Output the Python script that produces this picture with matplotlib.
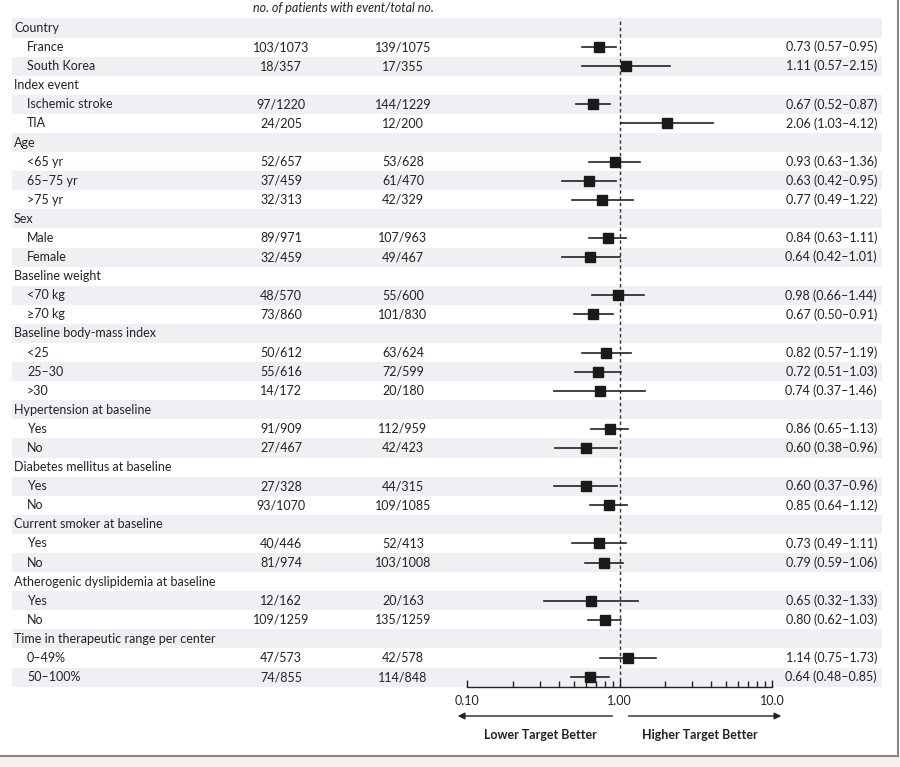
import matplotlib
matplotlib.use("Agg")
import matplotlib.pyplot as plt
from matplotlib.patches import Rectangle
from matplotlib.transforms import blended_transform_factory

# rows: label, is_header
labels = [
    "Country", "France", "South Korea",
    "Index event", "Ischemic stroke", "TIA",
    "Age", "<65 yr", "65\u201375 yr", ">75 yr",
    "Sex", "Male", "Female",
    "Baseline weight", "<70 kg", "\u226570 kg",
    "Baseline body-mass index", "<25", "25\u201330", ">30",
    "Hypertension at baseline", "Yes", "No",
    "Diabetes mellitus at baseline", "Yes", "No",
    "Current smoker at baseline", "Yes", "No",
    "Atherogenic dyslipidemia at baseline", "Yes", "No",
    "Time in therapeutic range per center", "0\u201349%", "50\u2013100%",
]
is_header = [
    1, 0, 0,
    1, 0, 0,
    1, 0, 0, 0,
    1, 0, 0,
    1, 0, 0,
    1, 0, 0, 0,
    1, 0, 0,
    1, 0, 0,
    1, 0, 0,
    1, 0, 0,
    1, 0, 0,
]
group_a = [
    "", "103/1073", "18/357",
    "", "97/1220", "24/205",
    "", "52/657", "37/459", "32/313",
    "", "89/971", "32/459",
    "", "48/570", "73/860",
    "", "50/612", "55/616", "14/172",
    "", "91/909", "27/467",
    "", "27/328", "93/1070",
    "", "40/446", "81/974",
    "", "12/162", "109/1259",
    "", "47/573", "74/855",
]
group_b = [
    "", "139/1075", "17/355",
    "", "144/1229", "12/200",
    "", "53/628", "61/470", "42/329",
    "", "107/963", "49/467",
    "", "55/600", "101/830",
    "", "63/624", "72/599", "20/180",
    "", "112/959", "42/423",
    "", "44/315", "109/1085",
    "", "52/413", "103/1008",
    "", "20/163", "135/1259",
    "", "42/578", "114/848",
]
hr = [
    None, 0.73, 1.11,
    None, 0.67, 2.06,
    None, 0.93, 0.63, 0.77,
    None, 0.84, 0.64,
    None, 0.98, 0.67,
    None, 0.82, 0.72, 0.74,
    None, 0.86, 0.60,
    None, 0.60, 0.85,
    None, 0.73, 0.79,
    None, 0.65, 0.80,
    None, 1.14, 0.64,
]
ci_lo = [
    None, 0.57, 0.57,
    None, 0.52, 1.03,
    None, 0.63, 0.42, 0.49,
    None, 0.63, 0.42,
    None, 0.66, 0.50,
    None, 0.57, 0.51, 0.37,
    None, 0.65, 0.38,
    None, 0.37, 0.64,
    None, 0.49, 0.59,
    None, 0.32, 0.62,
    None, 0.75, 0.48,
]
ci_hi = [
    None, 0.95, 2.15,
    None, 0.87, 4.12,
    None, 1.36, 0.95, 1.22,
    None, 1.11, 1.01,
    None, 1.44, 0.91,
    None, 1.19, 1.03, 1.46,
    None, 1.13, 0.96,
    None, 0.96, 1.12,
    None, 1.11, 1.06,
    None, 1.33, 1.03,
    None, 1.73, 0.85,
]
x_ticks = [0.1, 1.0, 10.0]
x_ticklabels = ["0.10", "1.00", "10.0"]

plt.rcParams["font.family"] = ["Lato", "DejaVu Sans"]
FS = 9
W, H = 900, 767
ROW0, ROWH = 28, 19.09
n = len(labels)

fig = plt.figure(figsize=(9, 7.67), dpi=100)
fig.patch.set_facecolor("white")

# background axes in pixel-like x units, row units in y
bg = fig.add_axes([0, 0, 1, 1])
bg.set_xlim(0, W)
bg.set_ylim((H - ROW0) / ROWH, -ROW0 / ROWH)
bg.axis("off")

for i in range(n):
    if i % 2 == 0:
        bg.axhspan(i - 0.5, i + 0.5, xmin=12 / W, xmax=882 / W,
                   facecolor="#eff0f3", edgecolor="none", zorder=0)
    if is_header[i]:
        bg.text(14, i, labels[i], fontsize=FS, va="center", ha="left", color="#222222")
    else:
        bg.text(27, i, labels[i], fontsize=FS, va="center", ha="left", color="#222222")
        bg.text(281, i, group_a[i], fontsize=FS, va="center", ha="center", color="#222222")
        bg.text(403, i, group_b[i], fontsize=FS, va="center", ha="center", color="#222222")
        bg.text(877, i, f"{hr[i]:.2f} ({ci_lo[i]:.2f}\u2013{ci_hi[i]:.2f})",
                fontsize=FS, va="center", ha="right", color="#222222")

fig.text(343 / W, 1 - 8 / H, "no. of patients with event/total no.",
         fontsize=FS, style="italic", ha="center", va="center", color="#222222")

# frame: right border and bottom band
fig.patches.append(Rectangle((0, 0), 1, 1 - 756 / H, transform=fig.transFigure,
                             facecolor="#f4f1ec", edgecolor="none", zorder=0))
fig.lines.append(plt.Line2D([0, 898 / W], [1 - 756 / H] * 2, transform=fig.transFigure,
                            color="#888888", lw=1.5))
fig.lines.append(plt.Line2D([898 / W] * 2, [1 - 756 / H, 1], transform=fig.transFigure,
                            color="#888888", lw=1.5))

# forest axes
axis_y = 687
top_y = ROW0 - ROWH / 2
ax = fig.add_axes([467 / W, 1 - axis_y / H, 305 / W, (axis_y - top_y) / H])
ax.patch.set_alpha(0)
ax.set_xscale("log")
ax.set_xlim(0.1, 10)
ax.set_ylim((axis_y - ROW0) / ROWH, -0.5)
for s in ["top", "left", "right"]:
    ax.spines[s].set_visible(False)
ax.spines["bottom"].set_color("#222222")
ax.spines["bottom"].set_linewidth(1.0)
ax.set_yticks([])
ax.set_xticks(x_ticks)
ax.set_xticklabels(x_ticklabels, fontsize=FS)
ax.tick_params(axis="x", which="major", direction="in", length=5, width=1, pad=6, colors="#222222")
ax.tick_params(axis="x", which="minor", direction="in", length=4, width=1, colors="#222222")

ax.axvline(1.0, color="#333333", lw=1.0, ls=(0, (2.5, 2)), zorder=1)
for i in range(n):
    if hr[i] is None:
        continue
    ax.plot([ci_lo[i], ci_hi[i]], [i, i], color="#222222", lw=1.2, zorder=2)
    ax.plot([hr[i]], [i], marker="s", ms=7, color="#1a1a1a", zorder=3)

tr = blended_transform_factory(ax.transData, fig.transFigure)
ay = 1 - 716 / H
ax.annotate("", xy=(0.087, ay), xytext=(0.90, ay), xycoords=tr, textcoords=tr,
            arrowprops=dict(arrowstyle="-|>", color="#222222", lw=1.0,
                            mutation_scale=10, shrinkA=0, shrinkB=0))
ax.annotate("", xy=(11.5, ay), xytext=(1.145, ay), xycoords=tr, textcoords=tr,
            arrowprops=dict(arrowstyle="-|>", color="#222222", lw=1.0,
                            mutation_scale=10, shrinkA=0, shrinkB=0))
fig.text(540 / W, 1 - 735 / H, "Lower Target Better", fontsize=FS, fontweight="bold",
         ha="center", va="center", color="#222222")
fig.text(700 / W, 1 - 735 / H, "Higher Target Better", fontsize=FS, fontweight="bold",
         ha="center", va="center", color="#222222")

fig.savefig("out.png", dpi=100, facecolor="white")
